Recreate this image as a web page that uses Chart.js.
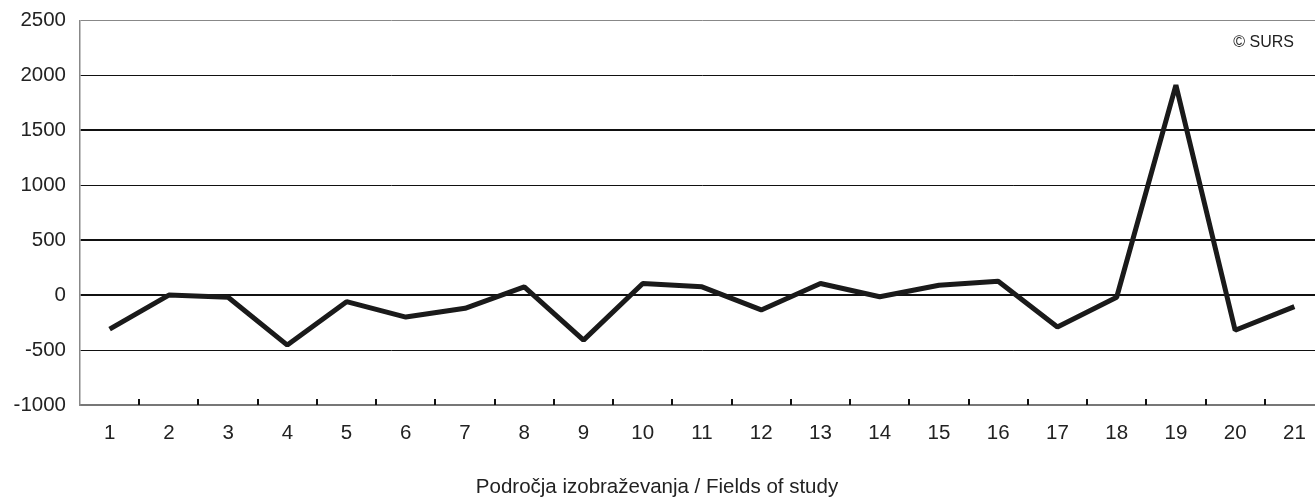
<!DOCTYPE html>
<html>
<head>
<meta charset="utf-8">
<script src="https://cdn.jsdelivr.net/npm/chart.js@4/dist/chart.umd.min.js"></script>
<style>
  html, body { margin: 0; padding: 0; background: #fff; overflow: hidden; }
  #wrap { position: relative; top: -6px; width: 1330px; height: 504px; }
</style>
</head>
<body>
<div id="wrap"><canvas id="myChart"></canvas></div>
<script>
'use strict';

// fields of study 1..21 and the change in number of students
let fields = ['1', '2', '3', '4', '5', '6', '7', '8', '9', '10', '11', '12', '13', '14', '15', '16', '17', '18', '19', '20', '21'];
let change = [-310, 0, -20, -455, -60, -200, -120, 75, -410, 105, 75, -135, 105, -15, 90, 125, -290, -20, 1910, -320, -105];
let yTicks = [-1000, -500, 0, 500, 1000, 1500, 2000, 2500];
let thickLines = [1500, 500, 0];
let xTitle = 'Področja izobraževanja / Fields of study';
let sourceNote = '© SURS';

let fontName = '"Liberation Sans", Arial, sans-serif';

// small tick marks between categories, pointing up into the plot
let innerTicks = {
    id: 'innerTicks',
    afterDraw(chart) {
        let ctx = chart.ctx;
        let x = chart.scales.x;
        let area = chart.chartArea;
        ctx.save();
        ctx.strokeStyle = '#111';
        ctx.lineWidth = 2;
        for (let i = 0; i < fields.length - 1; i++) {
            let px = Math.round((x.getPixelForValue(i) + x.getPixelForValue(i + 1)) / 2);
            ctx.beginPath();
            ctx.moveTo(px, area.bottom);
            ctx.lineTo(px, area.bottom - 6);
            ctx.stroke();
        }
        // texts
        ctx.fillStyle = '#222';
        ctx.font = '16px ' + fontName;
        ctx.textAlign = 'right';
        ctx.textBaseline = 'middle';
        ctx.fillText(sourceNote, area.right - 30, area.top + 22);
        ctx.font = '20.5px ' + fontName;
        ctx.textAlign = 'center';
        ctx.fillText(xTitle, 657, area.bottom + 82);
        ctx.restore();
    }
};

var ctx = document.getElementById('myChart').getContext('2d');
var myChart = new Chart(ctx, {
    type: 'line',
    data: {
        labels: fields,
        datasets: [{
            data: change,
            borderColor: '#1a1a1a',
            borderWidth: 5,
            borderJoinStyle: 'bevel',
            pointRadius: 0,
            tension: 0,
            fill: false
        }]
    },
    options: {
        responsive: true,
        maintainAspectRatio: false,
        animation: false,
        layout: { padding: { top: 8, left: 0, right: 6, bottom: 0 } },
        plugins: {
            legend: { display: false },
            tooltip: { enabled: false }
        },
        scales: {
            x: {
                offset: true,
                grid: { display: false, drawTicks: false },
                border: { display: true, color: '#777', width: 2 },
                ticks: {
                    color: '#222',
                    padding: 16,
                    maxRotation: 0,
                    autoSkip: false,
                    font: { family: fontName, size: 20.5 }
                },
                afterFit(scale) { scale.height = 93; }
            },
            y: {
                min: yTicks[0],
                max: yTicks[yTicks.length - 1],
                afterBuildTicks(scale) { scale.ticks = yTicks.map(v => ({ value: v })); },
                grid: {
                    drawTicks: false,
                    color(c) {
                        let v = c.tick && c.tick.value;
                        if (v === 2500 || v === -1000) return '#888';
                        return '#111';
                    },
                    lineWidth(c) {
                        let v = c.tick && c.tick.value;
                        return thickLines.includes(v) ? 2 : 1;
                    }
                },
                border: { display: true, color: '#888', width: 1.5 },
                ticks: {
                    color: '#222',
                    padding: 14,
                    font: { family: fontName, size: 20.5 },
                    callback: v => String(v)
                },
                afterFit(scale) { scale.width = 80; }
            }
        }
    },
    plugins: [innerTicks]
});
</script>
</body>
</html>
